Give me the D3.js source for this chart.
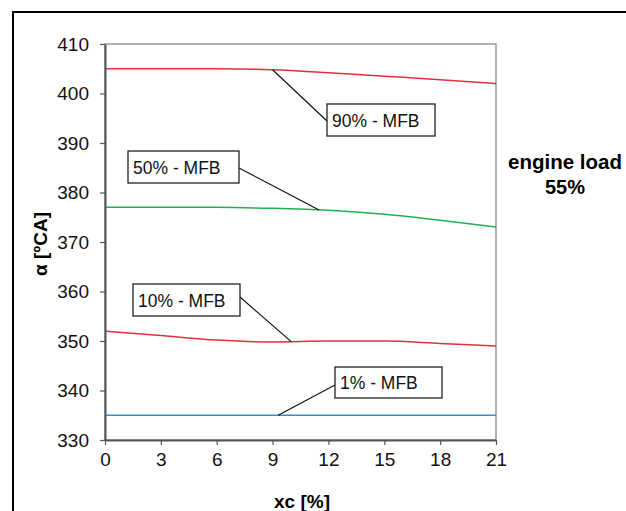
<!DOCTYPE html>
<html><head><meta charset="utf-8">
<script src="https://cdn.jsdelivr.net/npm/d3@7"></script>
<style>body{margin:0;background:#fff}svg{display:block;font-family:Arial,"Liberation Sans",sans-serif}</style>
</head><body><svg id="c" width="626" height="511"></svg>
<script>
const xcValues = [0, 3, 6, 9, 12, 15, 18, 21];
const mfb90 = [405, 405, 405, 404.8, 404.2, 403.5, 402.8, 402];
const mfb50 = [377, 377, 377, 376.8, 376.4, 375.6, 374.4, 373];
const mfb10 = [352, 351.1, 350.2, 349.8, 350, 350, 349.5, 349];
const mfb1 = [335, 335, 335, 335, 335, 335, 335, 335];
const xTicks = [0, 3, 6, 9, 12, 15, 18, 21];
const yTicks = [330, 340, 350, 360, 370, 380, 390, 400, 410];
const seriesNames = ["90% - MFB", "50% - MFB", "10% - MFB", "1% - MFB"];
const seriesColors = ["#e0303a", "#20b050", "#e0303a", "#3a8cc8"];
const calloutAnchorX = [9.0, 11.5, 10.0, 9.3];

const svg = d3.select("#c");
const L = 105, R = 496, T = 44, B = 440;
const x = d3.scaleLinear().domain([0, 21]).range([L, R]);
const y = d3.scaleLinear().domain([330, 410]).range([B, T]);

svg.append("rect").attr("x", 13).attr("y", 12).attr("width", 640).attr("height", 520)
  .attr("fill", "none").attr("stroke", "#000").attr("stroke-width", 2);

svg.append("rect").attr("x", L).attr("y", T).attr("width", R - L).attr("height", B - T)
  .attr("fill", "none").attr("stroke", "#999").attr("stroke-width", 1.5);

const series = [mfb90, mfb50, mfb10, mfb1];
const line = d3.line().x((d, i) => x(xcValues[i])).y(d => y(d)).curve(d3.curveMonotoneX);
series.forEach((s, k) => {
  svg.append("path").datum(s).attr("d", line).attr("fill", "none")
    .attr("stroke", seriesColors[k]).attr("stroke-width", 1.5);
});

const yAxis = svg.append("g").attr("transform", `translate(${L},0)`)
  .call(d3.axisLeft(y).tickValues(yTicks).tickSize(5).tickSizeOuter(0).tickPadding(11));
const xAxis = svg.append("g").attr("transform", `translate(0,${B})`)
  .call(d3.axisBottom(x).tickValues(xTicks).tickSize(5).tickSizeOuter(0).tickPadding(8));
[xAxis, yAxis].forEach(g => {
  g.select(".domain").attr("stroke", "#555").attr("stroke-width", 2);
  g.selectAll(".tick line").attr("stroke", "#555").attr("stroke-width", 1.2);
  g.selectAll("text").attr("font-size", 19).attr("fill", "#111").attr("font-family", "Arial, 'Liberation Sans', sans-serif");
});

const boxes = [
  {bx: 327, by: 104, bw: 108, bh: 32, lx: 327, ly: 121},
  {bx: 128, by: 151, bw: 111, bh: 32, lx: 239, ly: 168},
  {bx: 133, by: 284, bw: 107, bh: 32, lx: 240, ly: 297},
  {bx: 335, by: 367, bw: 107, bh: 31, lx: 335, ly: 385}
];
boxes.forEach((b, k) => {
  const ax = calloutAnchorX[k];
  const i = d3.bisectLeft(xcValues, ax);
  const t = (ax - xcValues[i - 1]) / (xcValues[i] - xcValues[i - 1]);
  const av = series[k][i - 1] + t * (series[k][i] - series[k][i - 1]);
  svg.append("line").attr("x1", b.lx).attr("y1", b.ly).attr("x2", x(ax)).attr("y2", y(av))
    .attr("stroke", "#111").attr("stroke-width", 1.2);
  svg.append("rect").attr("x", b.bx).attr("y", b.by).attr("width", b.bw).attr("height", b.bh)
    .attr("fill", "#fff").attr("stroke", "#222").attr("stroke-width", 1.3);
  svg.append("text").attr("x", b.bx + 5).attr("y", b.by + b.bh / 2 + 6.5)
    .attr("font-size", 17.5).attr("fill", "#111").text(seriesNames[k]);
});

svg.append("text").attr("x", 565).attr("y", 169).attr("text-anchor", "middle")
  .attr("font-size", 20.5).attr("font-weight", "bold").text("engine load");
svg.append("text").attr("x", 565).attr("y", 194).attr("text-anchor", "middle")
  .attr("font-size", 20).attr("font-weight", "bold").text("55%");

svg.append("text").attr("transform", "translate(47,244) rotate(-90)").attr("text-anchor", "middle")
  .attr("font-size", 19).attr("font-weight", "bold").text("α [ºCA]");
svg.append("text").attr("x", 302).attr("y", 508).attr("text-anchor", "middle")
  .attr("font-size", 19).attr("font-weight", "bold").text("xc [%]");
</script></body></html>
